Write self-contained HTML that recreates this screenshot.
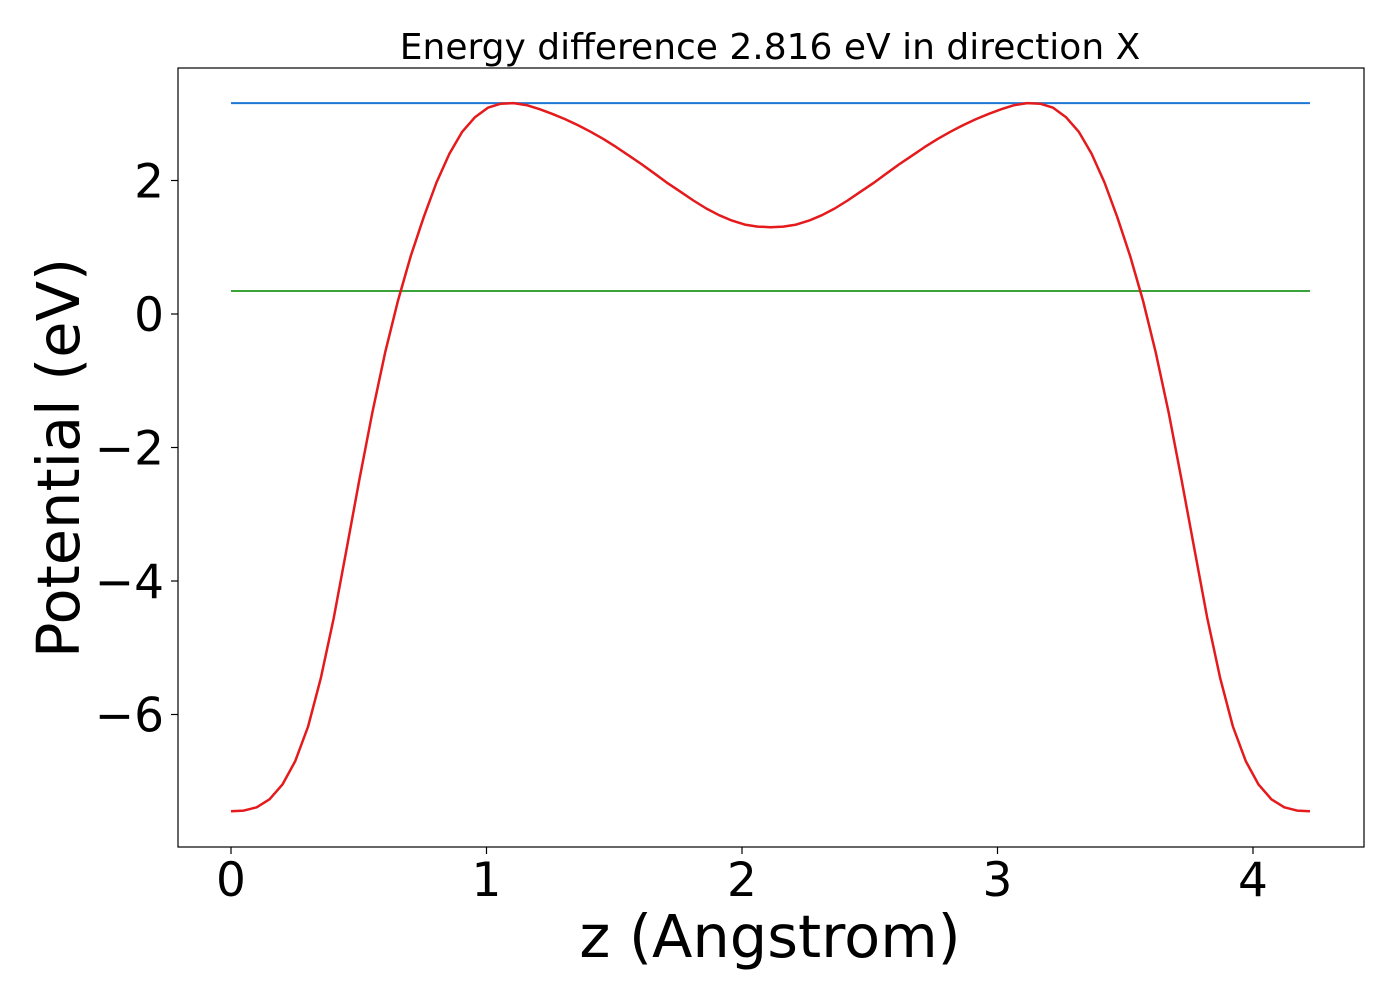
<!DOCTYPE html>
<html><head><meta charset="utf-8"><style>
html,body{margin:0;padding:0;background:#fff;}
svg{display:block;font-family:"DejaVu Sans","Liberation Sans",sans-serif;}
</style></head><body>
<svg id="chart" width="1400" height="1000" viewBox="0 0 1400 1000">
<rect x="0" y="0" width="1400" height="1000" fill="#fff"/>
<text x="770" y="59" font-size="36" text-anchor="middle">Energy difference 2.816 eV in direction X</text>
<g id="plot"></g>
<rect x="178" y="68" width="1186" height="779" fill="none" stroke="#000" stroke-width="1.2"/>
<text x="770" y="957" font-size="59" text-anchor="middle">z (Angstrom)</text>
<text transform="translate(79,458) rotate(-90)" font-size="59" text-anchor="middle">Potential (eV)</text>
</svg>
<script>
const potential = [-7.45,-7.44,-7.39,-7.27,-7.05,-6.70,-6.18,-5.45,-4.55,-3.52,-2.48,-1.48,-0.58,0.20,0.87,1.45,1.97,2.40,2.73,2.95,3.09,3.15,3.16,3.13,3.07,3.00,2.92,2.83,2.73,2.62,2.50,2.37,2.24,2.10,1.96,1.83,1.70,1.58,1.48,1.40,1.34,1.31,1.30,
1.31,1.34,1.40,1.48,1.58,1.70,1.83,1.96,2.10,2.24,2.37,2.50,2.62,2.73,2.83,2.92,3.00,3.07,3.13,3.16,3.15,3.09,2.95,2.73,2.40,1.97,1.45,0.87,0.20,-0.58,-1.48,-2.48,-3.52,-4.55,-5.45,-6.18,-6.70,-7.05,-7.27,-7.39,-7.44,-7.45];
const zMax = 4.223;
const barrierLevel = 3.16;
const fermiLevel = 0.344;
const xTicks = [0,1,2,3,4];
const yTicks = [2,0,-2,-4,-6];
const yTickLabels = ["2","0","\u22122","\u22124","\u22126"];

const NS = "http://www.w3.org/2000/svg";
function xs(v){return 231 + v*255.5;}
function ys(v){return 314 - v*66.75;}
const plot = document.getElementById('plot');
function mk(tag, attrs){const e=document.createElementNS(NS,tag);for(const k in attrs)e.setAttribute(k,attrs[k]);return e;}

xTicks.forEach(t=>{
  const l=mk('line',{x1:xs(t),x2:xs(t),y1:847,y2:854,stroke:'#000','stroke-width':1.2});
  
  
  plot.appendChild(l);
  const tx=mk('text',{x:xs(t),y:896,'font-size':47,'text-anchor':'middle'});
  
  
  tx.textContent=String(t);
  plot.appendChild(tx);
});
yTicks.forEach((t,i)=>{
  const l=mk('line',{x1:171,x2:178,y1:ys(t),y2:ys(t),stroke:'#000','stroke-width':1.2});
  
  
  plot.appendChild(l);
  const tx=mk('text',{x:164,y:ys(t)+17,'font-size':47,'text-anchor':'end'});
  
  
  tx.textContent=yTickLabels[i];
  plot.appendChild(tx);
});

const bl=mk('line',{x1:xs(0),x2:xs(zMax),y1:ys(barrierLevel),y2:ys(barrierLevel),stroke:'#1f77d4','stroke-width':2});


plot.appendChild(bl);
const gl=mk('line',{x1:xs(0),x2:xs(zMax),y1:ys(fermiLevel),y2:ys(fermiLevel),stroke:'#3aa33a','stroke-width':2});


plot.appendChild(gl);

const n=potential.length;
const pts=potential.map((v,i)=>xs(i*zMax/(n-1)).toFixed(1)+','+ys(v).toFixed(1)).join(' ');
const pl=mk('polyline',{points:pts,fill:'none',stroke:'#e41a1c','stroke-width':2.5,'stroke-linejoin':'round'});


plot.appendChild(pl);
</script>
</body></html>
